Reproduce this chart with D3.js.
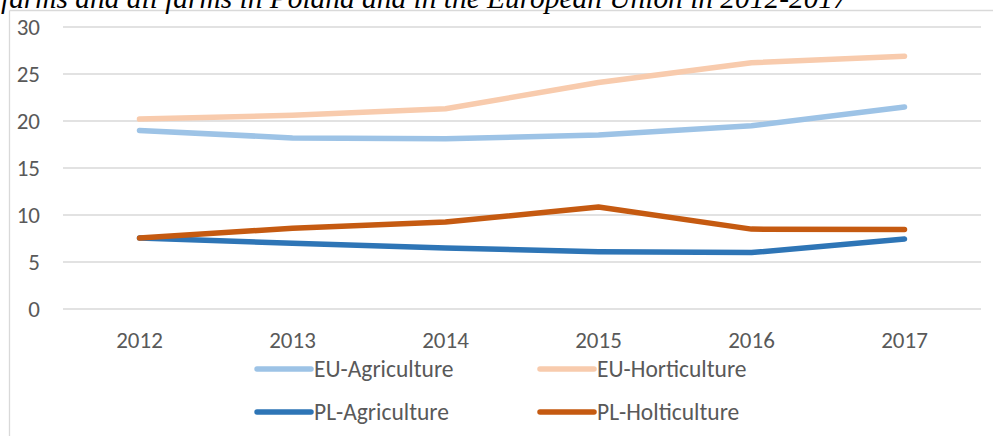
<!DOCTYPE html>
<html><head><meta charset="utf-8">
<script src="https://cdn.jsdelivr.net/npm/d3@7"></script>
<style>html,body{margin:0;padding:0;background:#fff;overflow:hidden}</style>
</head><body>
<svg id="c" width="993" height="436"></svg>
<script>
const titleText = "farms and all farms in Poland and in the European Union in 2012-2017";
const years = ["2012","2013","2014","2015","2016","2017"];
const yTicks = [0,5,10,15,20,25,30];
const euAgriculture = [19.0, 18.2, 18.1, 18.5, 19.5, 21.5];
const euHorticulture = [20.2, 20.6, 21.3, 24.1, 26.2, 26.9];
const plAgriculture = [7.55, 7.0, 6.5, 6.1, 6.0, 7.45];
const plHolticulture = [7.55, 8.6, 9.25, 10.85, 8.5, 8.45];
const seriesNames = ["EU-Agriculture","EU-Horticulture","PL-Agriculture","PL-Holticulture"];
const seriesColors = ["#9DC3E6","#F8CBAD","#2E75B6","#C55A11"];

const series = [euAgriculture, euHorticulture, plAgriculture, plHolticulture].map((v,i)=>({name:seriesNames[i], color:seriesColors[i], values:v}));

const svg = d3.select("#c");
const font = "Carlito, Calibri, 'Liberation Sans Narrow', 'Liberation Sans', sans-serif";

// frame borders
svg.append("line").attr("x1",9.5).attr("x2",9.5).attr("y1",10.5).attr("y2",436).attr("stroke","#D9D9D9").attr("stroke-width",1.3);
svg.append("line").attr("x1",9.5).attr("x2",993).attr("y1",10.5).attr("y2",10.5).attr("stroke","#D9D9D9").attr("stroke-width",1.3);

// title (cut off at top, as in the reference)
const t = svg.append("text").attr("x",1).attr("y",8).attr("font-family","'Liberation Serif','Times New Roman',serif")
  .attr("font-style","italic").attr("font-size",100).attr("fill","#000").text(titleText);
const tl = t.node().getComputedTextLength();
t.attr("font-size", 100*847/tl);

const x = d3.scaleBand().domain(years).range([63,981]);
const y = d3.scaleLinear().domain([0,30]).range([309,27]);

// gridlines
svg.append("g").selectAll("line").data(yTicks).join("line")
  .attr("x1",63).attr("x2",981).attr("y1",d=>y(d)).attr("y2",d=>y(d))
  .attr("stroke","#D9D9D9").attr("stroke-width",1.4);

// y axis
const ya = svg.append("g").attr("transform","translate(40,0)")
  .call(d3.axisLeft(y).tickValues(yTicks).tickSize(0).tickPadding(0));
ya.select(".domain").remove();
ya.selectAll("text").attr("font-family",font).attr("font-size",23).attr("fill","#595959");

// x axis
const xa = svg.append("g").attr("transform","translate(0,332)")
  .call(d3.axisBottom(x).tickSize(0).tickPadding(0));
xa.select(".domain").remove();
xa.selectAll("text").attr("font-family",font).attr("font-size",23).attr("fill","#595959");

// lines
const line = d3.line().x((d,i)=>x(years[i])+x.bandwidth()/2).y(d=>y(d));
svg.append("g").selectAll("path").data(series).join("path")
  .attr("d",d=>line(d.values)).attr("fill","none").attr("stroke",d=>d.color)
  .attr("stroke-width",5.5).attr("stroke-linecap","round").attr("stroke-linejoin","round");

// legend
const legPos = [[257,369],[540,369],[257,412],[540,412]];
const lg = svg.append("g").selectAll("g").data(series).join("g")
  .attr("transform",(d,i)=>`translate(${legPos[i][0]},${legPos[i][1]})`);
lg.append("line").attr("x1",0).attr("x2",54).attr("y1",0).attr("y2",0)
  .attr("stroke",d=>d.color).attr("stroke-width",5.5).attr("stroke-linecap","round");
lg.append("text").attr("x",57).attr("y",0).attr("dy","0.35em").attr("font-family",font)
  .attr("font-size",23.5).attr("fill","#595959").text(d=>d.name);
</script>
</body></html>
